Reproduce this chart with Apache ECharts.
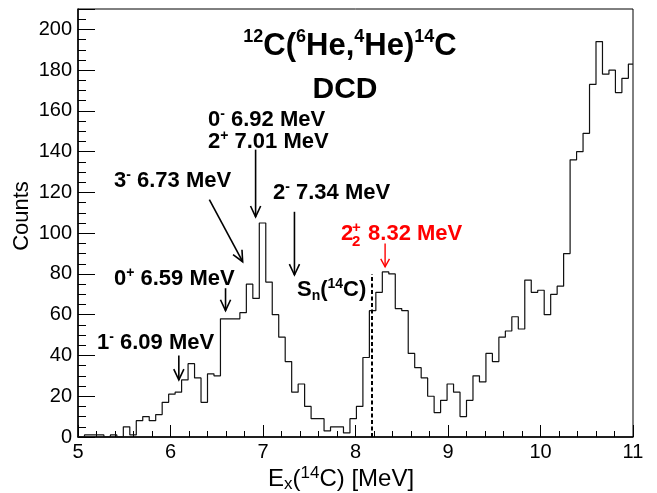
<!DOCTYPE html>
<html><head><meta charset="utf-8">
<script src="https://cdn.jsdelivr.net/npm/echarts@6/dist/echarts.min.js"></script>
<style>html,body{margin:0;padding:0;background:#fff}#c{width:657px;height:493px}</style>
</head><body><div id="c"></div>
<script>
// ---- data ----
const binStart = 5.0;      // MeV, left edge of first bin
const binWidth = 0.07;     // MeV
const xMax = 11;
const counts = [
  0, 1, 1, 1, 0, 1, 0, 5, 1, 8,
  10, 8, 11, 17, 21, 22, 28, 36, 29, 17,
  31, 30, 58, 58, 58, 61, 75, 68, 105, 76,
  60, 49, 37, 22, 26, 15, 9, 9, 3, 5,
  5, 2, 9, 15, 39, 62, 71, 81, 80, 63,
  62, 41, 34, 29, 20, 12, 18, 26, 22, 10,
  18, 30, 27, 41, 37, 49, 52, 59, 53, 77,
  71, 72, 60, 70, 74, 90, 136, 140, 149, 173,
  194, 178, 180, 169, 176, 183
];
const xTickLabels = [5, 6, 7, 8, 9, 10, 11];
const yTickLabels = [0, 20, 40, 60, 80, 100, 120, 140, 160, 180, 200];
const snEnergy = 8.176;           // S_n(14C), MeV
const levelEnergies = [6.92, 6.78, 6.595, 6.09, 7.34, 8.32];

// ---- chart ----
const FONT = '"Liberation Sans", Arial, Helvetica, sans-serif';
const chart = echarts.init(document.getElementById('c'));
const seriesData = counts.map((v, i) => [+(binStart + i * binWidth).toFixed(4), v]);
seriesData.push([xMax, counts[counts.length - 1]]);

chart.setOption({
  animation: false,
  backgroundColor: '#fff',
  grid: { left: 78, top: 9, width: 555, height: 428, show: true, borderColor: '#000', borderWidth: 1, backgroundColor: 'rgba(0,0,0,0)' },
  xAxis: {
    type: 'value', min: xTickLabels[0], max: xTickLabels[xTickLabels.length - 1], interval: 1,
    axisLine: { show: true, onZero: false, lineStyle: { color: '#000', width: 1.5 } },
    axisTick: { show: true, inside: true, length: 12, lineStyle: { color: '#000', width: 1 } },
    minorTick: { show: true, splitNumber: 5, length: 6, lineStyle: { color: '#000', width: 1 } },
    splitLine: { show: false }, minorSplitLine: { show: false },
    axisLabel: { fontSize: 20, color: '#000', fontFamily: FONT, margin: 5,
      formatter: v => xTickLabels.indexOf(v) >= 0 ? String(v) : '' }
  },
  yAxis: [{
    type: 'value', min: 0, max: 210, interval: 20, position: 'left',
    axisLine: { show: true, onZero: false, lineStyle: { color: '#000', width: 1.5 } },
    axisTick: { show: true, inside: true, length: 17, lineStyle: { color: '#000', width: 1 } },
    splitLine: { show: false },
    axisLabel: { fontSize: 20, color: '#000', fontFamily: FONT, margin: 6,
      formatter: v => yTickLabels.indexOf(v) >= 0 ? String(v) : '' }
  }, {
    type: 'value', min: 0, max: 210, interval: 5, position: 'left', offset: 0,
    axisLine: { show: false },
    axisTick: { show: true, inside: true, length: 8, lineStyle: { color: '#000', width: 1 } },
    splitLine: { show: false },
    axisLabel: { show: false }
  }],
  series: [{
    type: 'line', step: 'end', data: seriesData, showSymbol: false, symbol: 'none',
    lineStyle: { color: '#111', width: 1.2 }, xAxisIndex: 0, yAxisIndex: 0, clip: true,
    markLine: {
      silent: true, symbol: 'none', animation: false,
      lineStyle: { color: '#000', width: 2, type: [4, 2.5] },
      label: { show: false },
      data: [[{ coord: [snEnergy, 0] }, { coord: [snEnergy, 80] }]]
    }
  }]
});

// ---- annotations ----
function rich(parts, size, supSize, color, weight) {
  const r = {
    m: { fontSize: size, lineHeight: size + 4, fontFamily: FONT, fontWeight: weight, fill: color, color: color },
    s: { fontSize: supSize, lineHeight: supSize + 2, fontFamily: FONT, fontWeight: weight, fill: color, color: color, verticalAlign: 'top' },
    b: { fontSize: supSize, lineHeight: supSize + 2, fontFamily: FONT, fontWeight: weight, fill: color, color: color, verticalAlign: 'bottom' }
  };
  const t = parts.map(p => '{' + (p[1] || 'm') + '|' + p[0] + '}').join('');
  return { text: t, rich: r };
}
function label(x, y, parts, opts) {
  opts = opts || {};
  const size = opts.size || 22, sup = opts.sup || 14, color = opts.color || '#000';
  const weight = opts.weight || 'bold';
  const rr = rich(parts, size, sup, color, weight);
  return {
    type: 'text', x: x, y: y, rotation: opts.rotation || 0, silent: true, z: 100,
    style: { text: rr.text, rich: rr.rich, fill: color, align: opts.align || 'left', verticalAlign: 'middle',
      textAlign: opts.align || 'left', textVerticalAlign: 'middle',
      fontSize: size, fontFamily: FONT, fontWeight: weight }
  };
}
function arrow(from, to, color, headLen, headAng, w) {
  const p0 = chart.convertToPixel({ xAxisIndex: 0, yAxisIndex: 0 }, from);
  const p1 = chart.convertToPixel({ xAxisIndex: 0, yAxisIndex: 0 }, to);
  const dx = p0[0] - p1[0], dy = p0[1] - p1[1], L = Math.hypot(dx, dy);
  const ux = dx / L, uy = dy / L;
  const a = headAng * Math.PI / 180;
  const h1 = [p1[0] + headLen * (ux * Math.cos(a) - uy * Math.sin(a)), p1[1] + headLen * (ux * Math.sin(a) + uy * Math.cos(a))];
  const h2 = [p1[0] + headLen * (ux * Math.cos(-a) - uy * Math.sin(-a)), p1[1] + headLen * (ux * Math.sin(-a) + uy * Math.cos(-a))];
  return [
    { type: 'line', silent: true, z: 100, shape: { x1: p0[0], y1: p0[1], x2: p1[0], y2: p1[1] }, style: { stroke: color, lineWidth: w } },
    { type: 'polyline', silent: true, z: 100, shape: { points: [h1, p1, h2] }, style: { stroke: color, lineWidth: w, fill: null } }
  ];
}

const E = levelEnergies;
const g = [];
g.push(...arrow([E[0], 141], [E[0], 108], '#000', 12, 25, 1.6));
g.push(...arrow([6.42, 116.5], [E[1], 86], '#000', 12, 25, 1.6));
g.push(...arrow([E[2], 73], [E[2], 62], '#000', 12, 25, 1.6));
g.push(...arrow([E[3], 40], [E[3], 28], '#000', 12, 25, 1.6));
g.push(...arrow([E[4], 110.5], [E[4], 79.5], '#000', 12, 25, 1.6));
g.push(...arrow([E[5], 95], [E[5], 83.5], '#ff0000', 9, 29, 1.4));

// title
g.push(label(350, 46, [['12', 's'], ['C('], ['6', 's'], ['He,'], ['4', 's'], ['He)'], ['14', 's'], ['C']], { size: 31, sup: 18, align: 'center' }));
g.push(label(345, 90, [['DCD']], { size: 30, align: 'center' }));
g.push(label(208, 120, [['0'], ['-', 's'], [' 6.92 MeV']]));
g.push(label(208, 142, [['2'], ['+', 's'], [' 7.01 MeV']]));
g.push(label(114, 181, [['3'], ['-', 's'], [' 6.73 MeV']]));
g.push(label(273, 193, [['2'], ['-', 's'], [' 7.34 MeV']]));
g.push(label(114, 279, [['0'], ['+', 's'], [' 6.59 MeV']]));
g.push(label(97, 343, [['1'], ['-', 's'], [' 6.09 MeV']]));
g.push(label(297, 290, [['S'], ['n', 'b'], ['('], ['14', 's'], ['C)']]));
// red 2_2^+ label
g.push(label(341, 234, [['2']], { color: '#ff0000' }));
g.push(label(352, 228, [['+']], { color: '#ff0000', size: 15 }));
g.push(label(352, 242, [['2']], { color: '#ff0000', size: 15 }));
g.push(label(362, 234, [[' 8.32 MeV']], { color: '#ff0000' }));
// axis titles
g.push(label(268, 479, [['E'], ['x', 'b'], ['('], ['14', 's'], ['C) [MeV]']], { size: 24, sup: 17, weight: 'normal' }));
g.push(label(22, 216, [['Counts']], { size: 22, weight: 'normal', align: 'center', rotation: Math.PI / 2 }));

chart.setOption({ graphic: g });
</script>
</body></html>
